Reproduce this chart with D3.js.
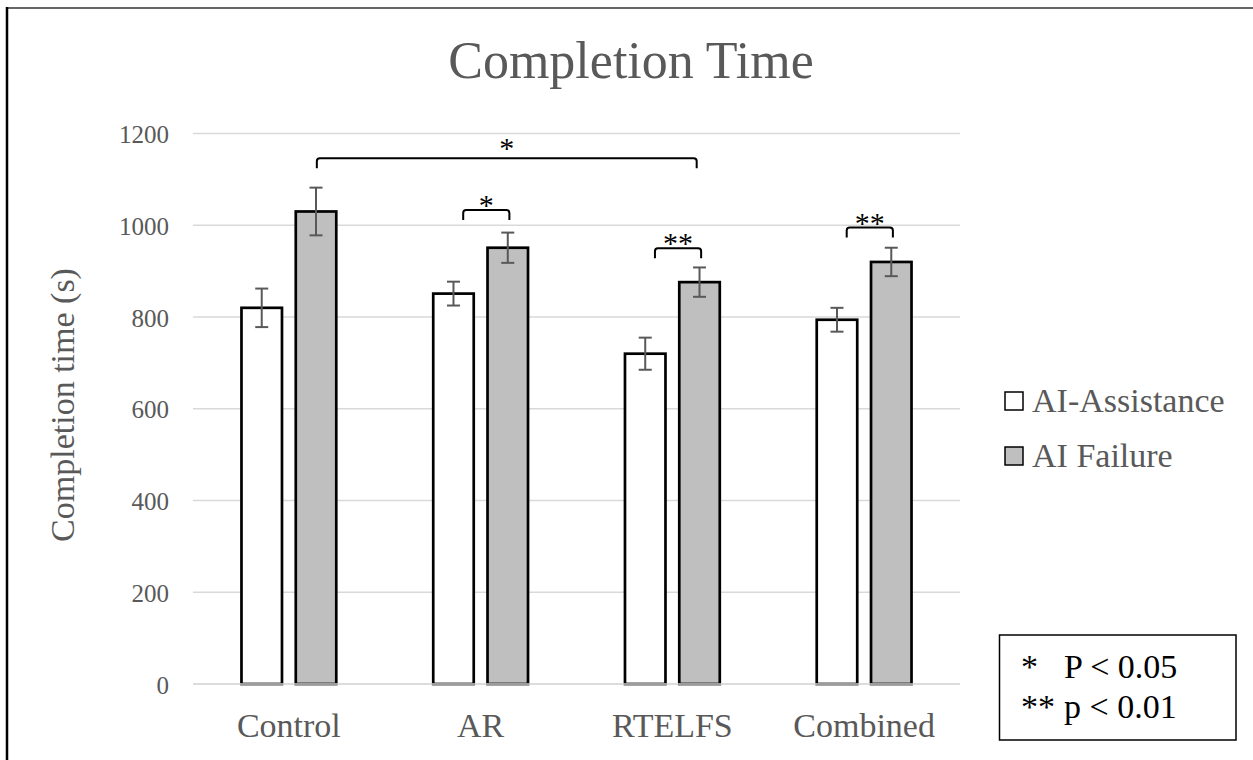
<!DOCTYPE html>
<html>
<head>
<meta charset="utf-8">
<script src="https://cdn.jsdelivr.net/npm/d3@7"></script>
<style>
  body { margin: 0; background: #fff; }
  svg, svg text { font-family: "Liberation Serif", "Times New Roman", Times, "DejaVu Serif", serif; }
</style>
</head>
<body>
<svg id="mainsvg" width="1253" height="760"></svg>
<script>
const categories = ['Control', 'AR', 'RTELFS', 'Combined'];
const seriesNames = ['AI-Assistance', 'AI Failure'];
const assistValues = [820, 851, 720, 794];
const assistErrors = [42, 26, 35, 26];
const failureValues = [1030, 951, 876, 920];
const failureErrors = [52, 33, 32, 31];
const yTicks = [0, 200, 400, 600, 800, 1000, 1200];
// significance brackets: from category/series to category/series, level in seconds
const sigFrom = [[0, 1], [1, 0], [2, 0], [3, 0]];
const sigTo = [[2, 1], [1, 1], [2, 1], [3, 1]];
const sigLevel = [1146, 1033, 950, 995];
const sigLabel = ['*', '*', '**', '**'];
const pNotes = [['*', 'P < 0.05'], ['**', 'p < 0.01']];

const serif = '"Liberation Serif", "Times New Roman", Times, "DejaVu Serif", serif';
const svg = d3.select('#mainsvg');
const fills = ['#ffffff', '#bfbfbf'];
const textGrey = '#595959';

const x0 = d3.scaleBand().domain(categories).range([193, 960]);
const x1 = d3.scaleBand().domain(seriesNames).range([0, x0.bandwidth()])
  .paddingInner(0.254).paddingOuter(0.893);
const y = d3.scaleLinear().domain([0, 1200]).range([684, 133.5]);

// frame
svg.append('line').attr('x1', 6).attr('x2', 1253).attr('y1', 8).attr('y2', 8)
  .attr('stroke', '#666').attr('stroke-width', 2);
svg.append('line').attr('x1', 7).attr('x2', 7).attr('y1', 7).attr('y2', 760)
  .attr('stroke', '#000').attr('stroke-width', 2.5);

// title
svg.append('text').attr('x', 631).attr('y', 78).attr('text-anchor', 'middle')
  .style('font-family', serif).style('font-size', '52px').attr('fill', textGrey)
  .text('Completion Time');

// gridlines
svg.append('g').selectAll('line').data(yTicks.filter(d => d > 0)).join('line')
  .attr('x1', 193).attr('x2', 960)
  .attr('y1', d => y(d)).attr('y2', d => y(d))
  .attr('stroke', '#d9d9d9').attr('stroke-width', 1.5);

// y axis labels
const yAxis = svg.append('g').attr('transform', 'translate(193,0)')
  .call(d3.axisLeft(y).tickValues(yTicks).tickFormat(d3.format('d')).tickSize(0).tickPadding(24));
yAxis.select('.domain').remove();
yAxis.attr('font-family', null);
yAxis.selectAll('text').attr('fill', textGrey).style('font-size', '25px')
  .style('font-family', serif).attr('dy', '0.36em');

svg.append('text').attr('transform', 'translate(74,405) rotate(-90)')
  .attr('text-anchor', 'middle').style('font-family', serif).style('font-size', '34px')
  .attr('fill', textGrey).text('Completion time (s)');

// x axis labels
const xAxis = svg.append('g').attr('transform', `translate(0,${y(0)})`)
  .call(d3.axisBottom(x0).tickSize(0).tickPadding(0));
xAxis.select('.domain').remove();
xAxis.attr('font-family', null);
xAxis.selectAll('text').attr('fill', textGrey).attr('dy', null).attr('y', 53)
  .style('font-size', '34px').style('font-family', serif);

// bars
const rows = categories.map((c, i) => ({
  cat: c,
  vals: [
    {s: seriesNames[0], v: assistValues[i], e: assistErrors[i], k: 0},
    {s: seriesNames[1], v: failureValues[i], e: failureErrors[i], k: 1}
  ]
}));

const groups = svg.append('g').selectAll('g').data(rows).join('g')
  .attr('transform', d => `translate(${x0(d.cat)},0)`);

groups.selectAll('rect').data(d => d.vals).join('rect')
  .attr('x', d => x1(d.s))
  .attr('width', x1.bandwidth())
  .attr('y', d => y(d.v))
  .attr('height', d => y(0) - y(d.v))
  .attr('fill', d => fills[d.k])
  .attr('stroke', '#000').attr('stroke-width', 2.7);

// baseline over bar bottoms
svg.append('line').attr('x1', 193).attr('x2', 960).attr('y1', y(0)).attr('y2', y(0))
  .attr('stroke', '#d0d0d0').attr('stroke-width', 1.5);

// error bars
const eb = groups.selectAll('g.err').data(d => d.vals).join('g').attr('class', 'err')
  .attr('stroke', '#595959').attr('stroke-width', 2);
eb.append('line')
  .attr('x1', d => x1(d.s) + x1.bandwidth() / 2).attr('x2', d => x1(d.s) + x1.bandwidth() / 2)
  .attr('y1', d => y(d.v + d.e)).attr('y2', d => y(d.v - d.e));
eb.append('line')
  .attr('x1', d => x1(d.s) + x1.bandwidth() / 2 - 6.5).attr('x2', d => x1(d.s) + x1.bandwidth() / 2 + 6.5)
  .attr('y1', d => y(d.v + d.e)).attr('y2', d => y(d.v + d.e));
eb.append('line')
  .attr('x1', d => x1(d.s) + x1.bandwidth() / 2 - 6.5).attr('x2', d => x1(d.s) + x1.bandwidth() / 2 + 6.5)
  .attr('y1', d => y(d.v - d.e)).attr('y2', d => y(d.v - d.e));

// significance brackets
const barX = (ci, si, frac) => x0(categories[ci]) + x1(seriesNames[si]) + x1.bandwidth() * frac;
const sig = sigLevel.map((lv, i) => {
  const big = sigFrom[i][0] !== sigTo[i][0];
  return {
    xa: barX(sigFrom[i][0], sigFrom[i][1], big ? 0.52 : 0.74),
    xb: barX(sigTo[i][0], sigTo[i][1], big ? 0.43 : 0.54),
    yt: y(lv),
    label: sigLabel[i],
    big: big
  };
});
const leg = 10, r = 3;
svg.append('g').selectAll('path').data(sig).join('path')
  .attr('d', d => `M${d.xa},${d.yt + leg} L${d.xa},${d.yt + r} Q${d.xa},${d.yt} ${d.xa + r},${d.yt}` +
    ` L${d.xb - r},${d.yt} Q${d.xb},${d.yt} ${d.xb},${d.yt + r} L${d.xb},${d.yt + leg}`)
  .attr('fill', 'none').attr('stroke', '#000').attr('stroke-width', 2);
svg.append('g').selectAll('text').data(sig).join('text')
  .attr('x', d => (d.xa + d.xb) / 2)
  .attr('y', d => d.yt - (d.big ? 14 : 9) + 14)
  .attr('text-anchor', 'middle').style('font-family', serif).style('font-size', '30px')
  .attr('fill', '#000').text(d => d.label);

// legend
const lg = svg.append('g').selectAll('g').data(seriesNames).join('g')
  .attr('transform', (d, i) => `translate(1005,${401 + i * 55})`);
lg.append('rect').attr('x', 0).attr('y', -9).attr('width', 18).attr('height', 18)
  .attr('fill', (d, i) => fills[i]).attr('stroke', '#000').attr('stroke-width', 1.5);
lg.append('text').attr('x', 27).attr('y', 11).style('font-family', serif).style('font-size', '34px')
  .attr('fill', textGrey).text(d => d);

// p-value note box
svg.append('rect').attr('x', 999.5).attr('y', 635).attr('width', 236.5).attr('height', 105)
  .attr('fill', '#fff').attr('stroke', '#000').attr('stroke-width', 1.5);
const pn = svg.append('g').selectAll('g').data(pNotes).join('g')
  .attr('transform', (d, i) => `translate(1021,${678 + i * 40})`);
pn.append('text').attr('x', 0).style('font-family', serif).style('font-size', '34px')
  .attr('fill', '#000').text(d => d[0]);
pn.append('text').attr('x', 43).style('font-family', serif).style('font-size', '34px')
  .attr('fill', '#000').text(d => d[1]);
</script>
</body>
</html>
